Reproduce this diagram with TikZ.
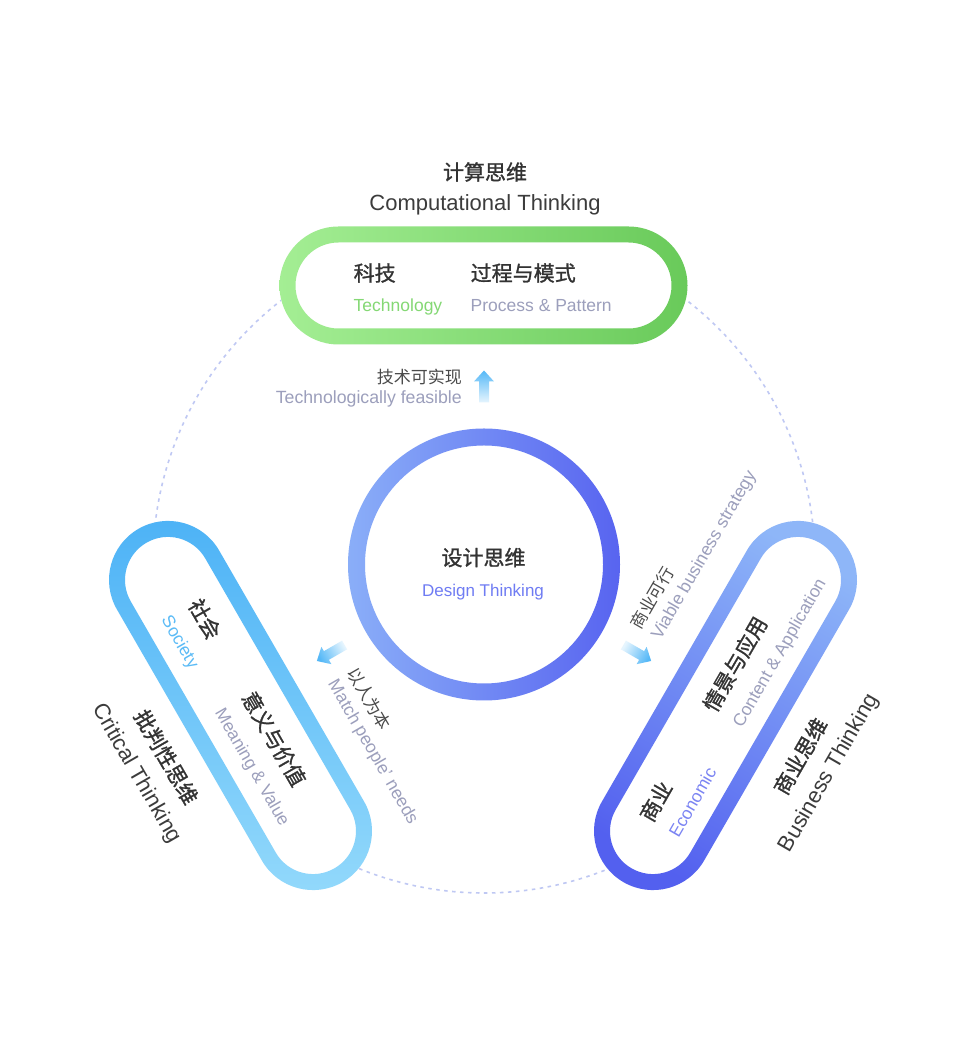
\documentclass[tikz,border=0pt]{standalone}
\usepackage{fontspec}
\setmainfont{Liberation Sans}
\newfontfamily\cjk{Noto Sans CJK SC}
\newfontfamily\cjkm[FakeBold=1.2]{Noto Sans CJK SC}
\definecolor{ink}{HTML}{333333}
\definecolor{ink2}{HTML}{3C3C3C}
\definecolor{ink3}{HTML}{4A4A4A}
\definecolor{subgray}{HTML}{9C9FBC}
\definecolor{dashc}{HTML}{BFC8F3}
\definecolor{greenA}{HTML}{A4EE94}
\definecolor{greenB}{HTML}{69CA5A}
\definecolor{blueLA}{HTML}{4CB2F6}
\definecolor{blueLB}{HTML}{93D9FB}
\definecolor{blueRA}{HTML}{8EB6F8}
\definecolor{blueRB}{HTML}{5360EF}
\definecolor{circA}{HTML}{8AAEF8}
\definecolor{circB}{HTML}{5864F0}
\definecolor{arrHead}{HTML}{55B8F7}
\definecolor{arrTail}{HTML}{E6F5FE}
\definecolor{techgreen}{HTML}{84D874}
\definecolor{societyc}{HTML}{5BBBF6}
\definecolor{economicc}{HTML}{7B84F3}
\definecolor{designc}{HTML}{6F7CF3}
\begin{document}
\begin{tikzpicture}[x=1pt,y=1pt,
  zhl/.style={font=\cjkm\fontsize{21}{25}\selectfont, text=ink, inner sep=0pt, anchor=base west},
  enl/.style={font=\fontsize{17.5}{20}\selectfont, inner sep=0pt, anchor=base west},
  ttlzh/.style={font=\cjkm\fontsize{21}{25}\selectfont, text=ink, inner sep=0pt, anchor=base},
  ttlen/.style={font=\fontsize{22}{26}\selectfont, text=ink2, inner sep=0pt, anchor=base},
  notezh/.style={font=\cjk\fontsize{17}{20}\selectfont, text=ink3, inner sep=0pt},
  noteen/.style={font=\fontsize{17.7}{20}\selectfont, text=subgray, inner sep=0pt},
  dashring/.style={draw=dashc, line width=1.6pt, dash pattern=on 3.5pt off 4.5pt},
]
\fill[white] (0,0) rectangle (968,1052);
\useasboundingbox (0,0) rectangle (968,1052);
\coordinate (C) at (484,487.5);
\draw[dashring] (484,490) circle[radius=331];

% ---------- top capsule: Computational Thinking
\begin{scope}[shift={(483.5,766.5)}]
  \fill[white] (-145,-59) -- (145,-59) arc[start angle=-90,end angle=90,radius=59] -- (-145,59) arc[start angle=90,end angle=270,radius=59] -- cycle;
  \shade[even odd rule, left color=greenA, right color=greenB]
    (-145,-59) -- (145,-59) arc[start angle=-90,end angle=90,radius=59] -- (-145,59) arc[start angle=90,end angle=270,radius=59] -- cycle
    (-145,-43) -- (145,-43) arc[start angle=-90,end angle=90,radius=43] -- (-145,43) arc[start angle=90,end angle=270,radius=43] -- cycle;
  \node[zhl] (kj) at (-130,4.5) {科技};
  \node[enl, text=techgreen] (kje) at (-130,-26) {Technology};
  \node[zhl] (gc) at (-13,4.5) {过程与模式};
  \node[enl, text=subgray] (gce) at (-13,-26) {Process \& Pattern};
  \node[ttlzh] (jt) at (1.5,105.5) {计算思维};
  \node[ttlen] (jte) at (1.5,75) {Computational Thinking};
\end{scope}

% ---------- left capsule: Critical Thinking
\begin{scope}[shift={(240.5,346.5)}, rotate=-60, transform shape]
  \fill[white] (-145,-59) -- (145,-59) arc[start angle=-90,end angle=90,radius=59] -- (-145,59) arc[start angle=90,end angle=270,radius=59] -- cycle;
  \shade[even odd rule, top color=blueLA, bottom color=blueLB]
    (-145,-59) -- (145,-59) arc[start angle=-90,end angle=90,radius=59] -- (-145,59) arc[start angle=90,end angle=270,radius=59] -- cycle
    (-145,-43) -- (145,-43) arc[start angle=-90,end angle=90,radius=43] -- (-145,43) arc[start angle=90,end angle=270,radius=43] -- cycle;
  \node[zhl] (sh) at (-114,4.5) {社会};
  \node[enl, text=societyc] (she) at (-114,-26) {Society};
  \node[zhl] (yy) at (-7,4.5) {意义与价值};
  \node[enl, text=subgray] (yye) at (-7,-26) {Meaning \& Value};
  \node[ttlzh] (pp) at (7.5,-98) {批判性思维};
  \node[ttlen] (ppe) at (7,-130) {Critical Thinking};
\end{scope}

% ---------- right capsule: Business Thinking
\begin{scope}[shift={(725.5,346.5)}, rotate=60, transform shape]
  \fill[white] (-145,-59) -- (145,-59) arc[start angle=-90,end angle=90,radius=59] -- (-145,59) arc[start angle=90,end angle=270,radius=59] -- cycle;
  \shade[even odd rule, top color=blueRA, bottom color=blueRB, shading angle=-30]
    (-145,-59) -- (145,-59) arc[start angle=-90,end angle=90,radius=59] -- (-145,59) arc[start angle=90,end angle=270,radius=59] -- cycle
    (-145,-43) -- (145,-43) arc[start angle=-90,end angle=90,radius=43] -- (-145,43) arc[start angle=90,end angle=270,radius=43] -- cycle;
  \node[zhl] (sy) at (-139,4.5) {商业};
  \node[enl, text=economicc] (sye) at (-139,-26) {Economic};
  \node[zhl] (qj) at (-12,4.5) {情景与应用};
  \node[enl, text=subgray] (qje) at (-12,-26) {Content \& Application};
  \node[ttlzh] (sw) at (-6.5,-98) {商业思维};
  \node[ttlen] (swe) at (-6.5,-129.5) {Business Thinking};
\end{scope}

% ---------- centre circle
\shade[even odd rule, left color=circA, right color=circB] (C) circle[radius=136] (C) circle[radius=119];
\node[font=\cjkm\fontsize{21}{25}\selectfont, text=ink, inner sep=0pt, anchor=base] (dt) at (483.5,486.5) {设计思维};
\node[font=\fontsize{17}{20}\selectfont, text=designc, inner sep=0pt, anchor=base] (dte) at (483,455.3) {Design Thinking};

% ---------- arrow: technologically feasible (up)
\begin{scope}[shift={(C)}]
  \shade[top color=arrHead, bottom color=arrTail]
    (-5,162) -- (5,162) -- (5,183) -- (10,183) -- (0,194) -- (-10,183) -- (-5,183) -- cycle;
  \node[notezh, anchor=base east] (tf) at (-22,181) {技术可实现};
  \node[noteen, anchor=base east] (tfe) at (-22,160.5) {Technologically feasible};
\end{scope}

% ---------- arrow: match people's needs (down-left)
\begin{scope}[shift={(C)}, rotate=-60, transform shape]
  \shade[top color=arrHead, bottom color=arrTail, shading angle=120]
    (-5,-161) -- (5,-161) -- (5,-182) -- (10,-182) -- (0,-193) -- (-10,-182) -- (-5,-182) -- cycle;
  \node[notezh, anchor=base west] (rb) at (25,-173) {以人为本};
  \node[noteen, anchor=base west] (rbe) at (25,-195) {Match people’ needs};
\end{scope}

% ---------- arrow: viable business strategy (down-right)
\begin{scope}[shift={(C)}, rotate=60, transform shape]
  \shade[top color=arrHead, bottom color=arrTail, shading angle=240]
    (-5,-161) -- (5,-161) -- (5,-182) -- (10,-182) -- (0,-193) -- (-10,-182) -- (-5,-182) -- cycle;
  \node[notezh, anchor=base west] (kx) at (21,-169) {商业可行};
  \node[noteen, anchor=base west] (kxe) at (22,-191) {Viable business strategy};
\end{scope}
\end{tikzpicture}
\end{document}
